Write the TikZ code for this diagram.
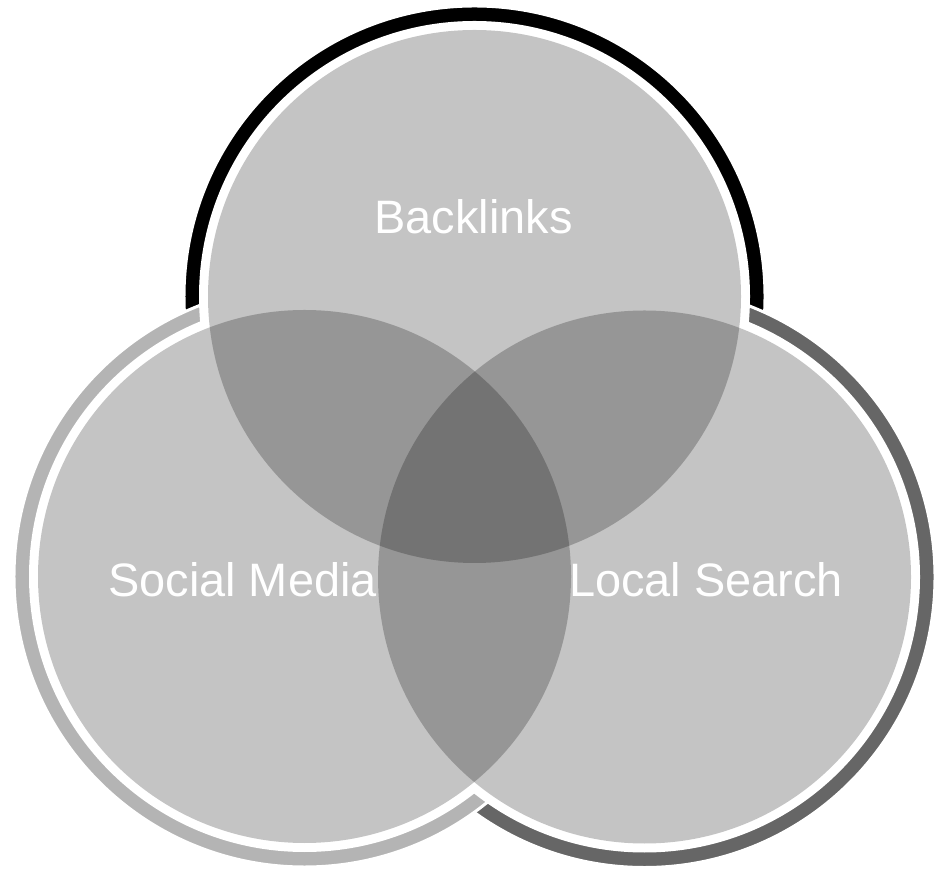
\documentclass[tikz,border=0pt]{standalone}
\usepackage{fontspec}
\setmainfont{Liberation Sans}
\definecolor{ringlight}{RGB}{180,180,180}
\definecolor{ringdark}{RGB}{102,102,102}
\tikzstyle{ring} = [draw=white,line width=1.7pt]
\tikzstyle{gap} = [fill=white]
\tikzstyle{disc} = [fill=black,fill opacity=0.23]
\tikzstyle{setname} = [text=white,anchor=base,inner sep=0,font=\fontsize{26.7}{32}\selectfont]
\def \rf {266.5}
\def \ri {275.5}
\def \ro {290.5}

\begin{document}
\begin{tikzpicture}[x=0.02cm,y=0.02cm]
  \useasboundingbox (0,0) rectangle (936,872);
  \coordinate (top) at (474.5,575.5);
  \coordinate (left) at (304.5,295.5);
  \coordinate (right) at (644.5,295);
  % outer rings, the later ones lie over the earlier
  \filldraw[ring,fill=black] (top) circle (\ro);
  \filldraw[ring,fill=ringdark] (right) circle (\ro);
  \filldraw[ring,fill=ringlight] (left) circle (\ro);
  \fill[gap] (top) circle (\ri);
  \fill[gap] (right) circle (\ri);
  \fill[gap] (left) circle (\ri);
  % the three sets
  \fill[disc] (top) circle (\rf);
  \fill[disc] (left) circle (\rf);
  \fill[disc] (right) circle (\rf);
  \node[setname] (backlinks) at (473.5,638) {Backlinks};
  \node[setname] (social) at (242.5,275) {Social Media};
  \node[setname] (local) at (706,275) {Local Search};
\end{tikzpicture}
\end{document}
